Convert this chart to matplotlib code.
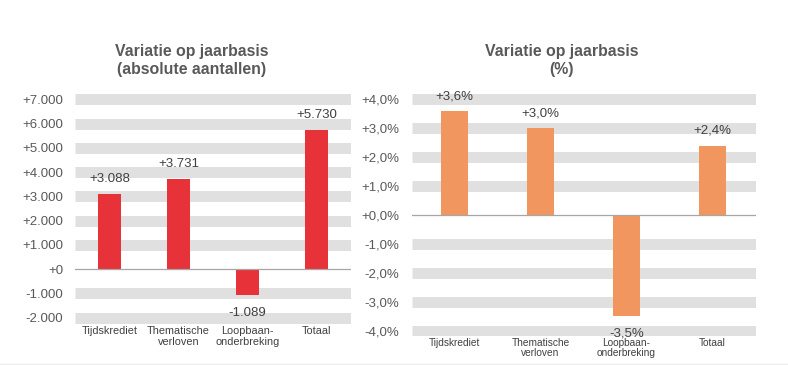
import matplotlib
matplotlib.use("Agg")
import matplotlib.pyplot as plt
from matplotlib.lines import Line2D

plt.rcParams['font.family'] = ['Liberation Sans', 'DejaVu Sans']

categories = ["Tijdskrediet", "Thematische\nverloven", "Loopbaan-\nonderbreking", "Totaal"]
abs_values = [3088, 3731, -1089, 5730]
pct_values = [3.6, 3.0, -3.5, 2.4]
abs_ticks = [-2000, -1000, 0, 1000, 2000, 3000, 4000, 5000, 6000, 7000]
pct_ticks = [-4.0, -3.0, -2.0, -1.0, 0.0, 1.0, 2.0, 3.0, 4.0]
title_abs = "Variatie op jaarbasis\n(absolute aantallen)"
title_pct = "Variatie op jaarbasis\n(%)"

RED = "#e8323a"
ORANGE = "#f0965e"
BAND = "#e0e0e0"
ZERO = "#a6a6a6"
TICKC = "#595959"
LABC = "#404040"


def fmt_abs(v):
    s = f"{abs(int(round(v))):,}".replace(",", ".")
    return ("+" if v >= 0 else "-") + s


def fmt_pct(v):
    s = f"{abs(v):.1f}".replace(".", ",")
    return ("+" if v >= 0 else "-") + s + "%"


W, H = 788, 365
fig = plt.figure(figsize=(W / 100, H / 100), dpi=100)


def draw(ax, values, ticks, ylim, color, width, fmt, catsize, pad, lblpad):
    ax.set_xlim(-0.5, len(values) - 0.5)
    ax.set_ylim(*ylim)
    for t in ticks:
        if t == 0:
            ax.axhline(0, color=ZERO, lw=0.9, zorder=3)
        else:
            ax.axhline(t, color=BAND, lw=7.9, zorder=0, solid_capstyle='butt')
    x = list(range(len(values)))
    ax.bar(x, values, width=width, color=color, zorder=2)
    for xi, v in zip(x, values):
        off = 10.8 if v >= 0 else -12.3
        ax.annotate(fmt(v), (xi, v), xytext=(0, off), textcoords='offset points',
                    ha='center', va='center', fontsize=9.5, color=LABC)
    ax.set_yticks(ticks)
    ax.set_yticklabels([fmt(t) for t in ticks], fontsize=9.5, color=TICKC)
    ax.set_xticks(x)
    ax.set_xticklabels(categories, fontsize=catsize, color=LABC, linespacing=lblpad)
    ax.tick_params(axis='y', length=0, pad=pad)
    ax.tick_params(axis='x', length=0, pad=1.5)
    for s in ax.spines.values():
        s.set_visible(False)


ax1 = fig.add_axes([75 / W, (H - 323.6) / H, 276 / W, 230.2 / H])
draw(ax1, abs_values, abs_ticks, (-2250, 7250), RED, 0.32,
     lambda v: fmt_abs(v), 7.8, 8.6, 1.15)

ax2 = fig.add_axes([411.5 / W, (H - 336.3) / H, 344 / W, 242.6 / H])
draw(ax2, pct_values, pct_ticks, (-4.2, 4.2), ORANGE, 0.31,
     lambda v: fmt_pct(v), 7.3, 9.0, 1.0)

fig.text(192 / W, (H - 60.5) / H, title_abs, ha='center', va='center',
         fontsize=11.4, fontweight='bold', color=TICKC, linespacing=1.2)
fig.text(562 / W, (H - 60.5) / H, title_pct, ha='center', va='center',
         fontsize=11.4, fontweight='bold', color=TICKC, linespacing=1.2)

fig.add_artist(Line2D([0, 1], [(H - 363.5) / H] * 2, transform=fig.transFigure,
                      color="#ececec", lw=1.0))

fig.savefig("out.png", dpi=100)
